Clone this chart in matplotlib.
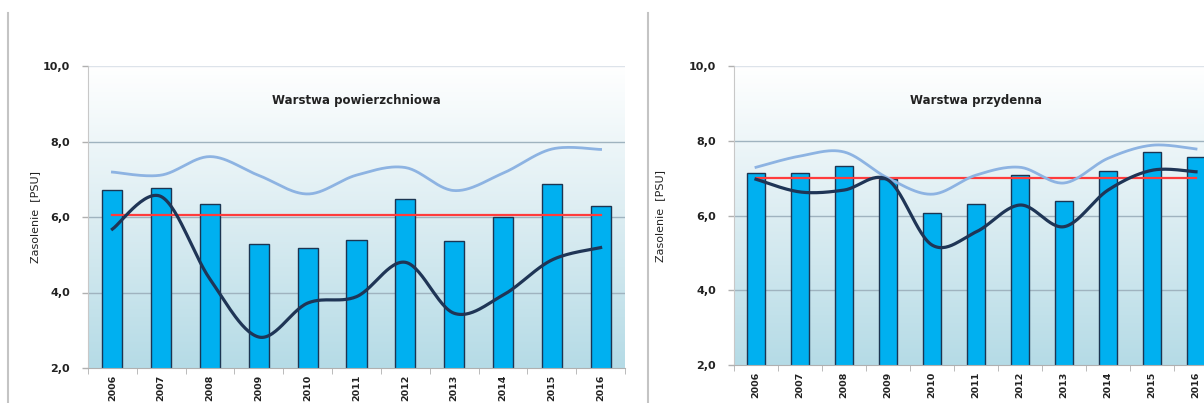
import numpy as np
import matplotlib
matplotlib.use("Agg")
import matplotlib.pyplot as plt
from matplotlib.lines import Line2D
from matplotlib.colors import LinearSegmentedColormap

years = [2006, 2007, 2008, 2009, 2010, 2011, 2012, 2013, 2014, 2015, 2016]

# Warstwa powierzchniowa
pow_bars = [6.72, 6.78, 6.34, 5.29, 5.18, 5.39, 6.49, 5.36, 5.99, 6.87, 6.30]
pow_max = [7.19, 7.11, 7.60, 7.10, 6.61, 7.11, 7.31, 6.70, 7.16, 7.80, 7.79]
pow_min = [5.68, 6.54, 4.35, 2.82, 3.72, 3.89, 4.80, 3.45, 3.93, 4.86, 5.19]
pow_mean = 6.06

# Warstwa przydenna
prz_bars = [7.15, 7.14, 7.33, 6.97, 6.08, 6.32, 7.08, 6.39, 7.19, 7.69, 7.57]
prz_max = [7.29, 7.59, 7.70, 7.00, 6.57, 7.08, 7.29, 6.87, 7.53, 7.88, 7.78]
prz_min = [6.97, 6.63, 6.68, 6.95, 5.21, 5.56, 6.28, 5.70, 6.68, 7.21, 7.17]
prz_mean = 7.00

yticks = [2, 4, 6, 8, 10]
ytick_labels = ["2,0", "4,0", "6,0", "8,0", "10,0"]


def smooth(x, y, n=30):
    # wygladzanie linii jak w Excelu (krzywe Beziera, Catmull-Rom)
    x = np.asarray(x, float)
    y = np.asarray(y, float)
    px = np.concatenate([[x[0]], x, [x[-1]]])
    py = np.concatenate([[y[0]], y, [y[-1]]])
    xs, ys = [], []
    t = np.linspace(0, 1, n)
    for i in range(1, len(px) - 2):
        p0 = np.array([px[i], py[i]])
        p3 = np.array([px[i + 1], py[i + 1]])
        p1 = p0 + (np.array([px[i + 1], py[i + 1]]) - np.array([px[i - 1], py[i - 1]])) / 6.0
        p2 = p3 - (np.array([px[i + 2], py[i + 2]]) - np.array([px[i], py[i]])) / 6.0
        b = ((1 - t) ** 3)[:, None] * p0 + (3 * (1 - t) ** 2 * t)[:, None] * p1 \
            + (3 * (1 - t) * t ** 2)[:, None] * p2 + (t ** 3)[:, None] * p3
        xs.extend(b[:, 0])
        ys.extend(b[:, 1])
    return xs, ys


cmap = LinearSegmentedColormap.from_list("tlo", ["#b5dbe6", "#dcedf2", "#ffffff"])


def panel(ax, bars, vmax, vmin, mean, title, ylab_x):
    x = np.arange(len(years))
    ax.set_xlim(-0.5, len(years) - 0.5)
    ax.set_ylim(2, 10)
    grad = np.linspace(0, 1, 256)[:, None]
    ax.imshow(grad, aspect="auto", cmap=cmap, origin="lower",
              extent=(-0.5, len(years) - 0.5, 2, 10), zorder=0)
    for v in [4, 6, 8]:
        ax.axhline(v, color="#9fb3bf", lw=1, zorder=1)
    ax.axhline(10, color="#dde3ea", lw=1, zorder=1)
    ax.bar(x, bars, width=0.41, bottom=0, color="#00b0f0", edgecolor="#1c3552",
           linewidth=1, zorder=2)
    ax.plot([x[0], x[-1]], [mean, mean], color="#ff3c3c", lw=1.6, zorder=3)
    sx, sy = smooth(x, vmax)
    ax.plot(sx, sy, color="#8db3e2", lw=2.0, zorder=3)
    sx, sy = smooth(x, vmin)
    ax.plot(sx, sy, color="#1f3556", lw=2.3, zorder=4)

    ax.set_yticks(yticks)
    ax.set_yticklabels(ytick_labels, fontsize=8, fontweight="bold", color="#222222")
    ax.tick_params(axis="y", length=4, width=1, color="#b0b0b0", pad=9)
    ax.set_xticks(x)
    ax.set_xticklabels([str(r) for r in years], rotation=90, fontsize=6.8,
                       fontweight="bold", color="#222222")
    ax.set_xticks(np.arange(-0.5, len(years)), minor=True)
    ax.tick_params(axis="x", which="major", length=0, pad=5)
    ax.tick_params(axis="x", which="minor", length=4, color="#b0b0b0")
    for s in ["top", "right"]:
        ax.spines[s].set_visible(False)
    ax.spines["left"].set_color("#c8c8c8")
    ax.spines["bottom"].set_color("#b0b0b0")
    ax.set_ylabel("Zasolenie  [PSU]", fontsize=8, color="#222222")
    ax.yaxis.set_label_coords(ylab_x, 0.5)
    ax.text(0.5, 0.885, title, transform=ax.transAxes, ha="center", va="center",
            fontsize=8.5, fontweight="bold", color="#222222")


fig = plt.figure(figsize=(12.04, 4.03), dpi=100)
W, H = 1204.0, 403.0

ax1 = fig.add_axes([88 / W, (H - 368) / H, 537 / W, 302 / H])
panel(ax1, pow_bars, pow_max, pow_min, pow_mean, "Warstwa powierzchniowa", -0.089)

ax2 = fig.add_axes([734 / W, (H - 365) / H, 484 / W, 299 / H])
panel(ax2, prz_bars, prz_max, prz_min, prz_mean, "Warstwa przydenna", -0.143)

for xx in [8, 648]:
    fig.add_artist(Line2D([xx / W, xx / W], [0, 1 - 13 / H], transform=fig.transFigure,
                          color="#c4c4c4", lw=1.5))

fig.savefig("out.png", dpi=100)
